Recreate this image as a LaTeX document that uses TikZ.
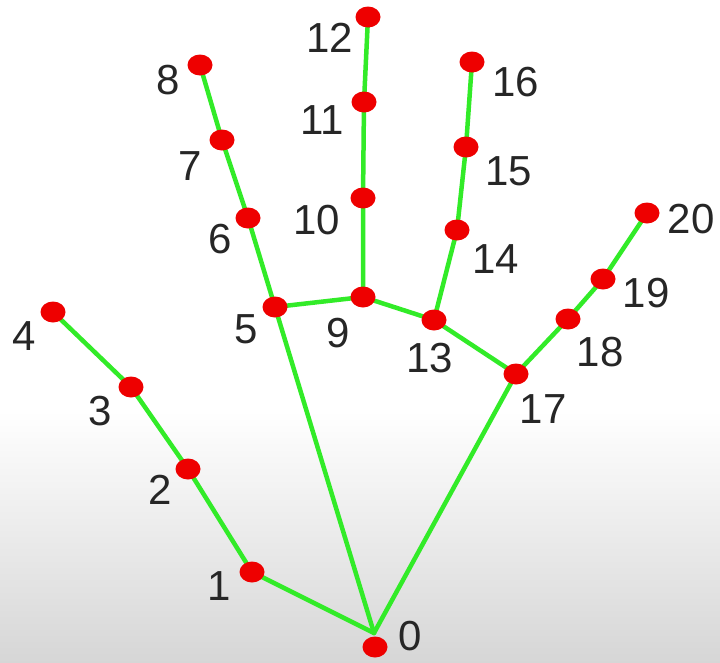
\documentclass[tikz,border=0pt]{standalone}
\usepackage{fontspec}
\setmainfont{Liberation Sans}
\usetikzlibrary{shapes.geometric}
\definecolor{bone}{RGB}{50,235,40}
\definecolor{joint}{RGB}{238,0,0}
\begin{document}
\begin{tikzpicture}[x=1pt,y=-1pt,
  dot/.style={ellipse,fill=joint,draw=none,minimum width=25pt,minimum height=21pt,inner sep=0pt},
  lbl/.style={font=\fontsize{42}{48}\selectfont,text=black!85,inner sep=0pt},
  bonestyle/.style={draw=bone,line width=4.5pt,line cap=round,line join=round}]
\useasboundingbox (0,0) rectangle (720,662);
\fill[white] (0,0) rectangle (720,410);
\shade[top color=white,bottom color=black!16] (0,410) rectangle (720,662);
% joints positions
\coordinate (p0) at (375,647);
\coordinate (c0) at (374,633);
\coordinate (p1) at (252,572);
\coordinate (p2) at (188,469);
\coordinate (p3) at (131,387);
\coordinate (p4) at (53,312);
\coordinate (p5) at (275,307);
\coordinate (p6) at (248,218);
\coordinate (p7) at (222,140);
\coordinate (p8) at (200,65);
\coordinate (p9) at (363,297);
\coordinate (p10) at (363,198);
\coordinate (p11) at (364,102);
\coordinate (p12) at (368,17);
\coordinate (p13) at (434,320);
\coordinate (p14) at (457,230);
\coordinate (p15) at (466,147);
\coordinate (p16) at (472,62);
\coordinate (p17) at (516,374);
\coordinate (p18) at (568,319);
\coordinate (p19) at (603,279);
\coordinate (p20) at (647,213);
% bones
\path[bonestyle] (c0) -- (p1) -- (p2) -- (p3) -- (p4);
\path[bonestyle] (c0) -- (p5) -- (p6) -- (p7) -- (p8);
\path[bonestyle] (p5) -- (p9) -- (p10) -- (p11) -- (p12);
\path[bonestyle] (p9) -- (p13) -- (p14) -- (p15) -- (p16);
\path[bonestyle] (p13) -- (p17) -- (p18) -- (p19) -- (p20);
\path[bonestyle] (c0) -- (p17);
% dots
\foreach \i in {0,...,20} {\node[dot] (d\i) at (p\i) {};}
% labels
\node[lbl] (l0) at (410,636) {0};
\node[lbl] (l1) at (219,586) {1};
\node[lbl] (l2) at (160,490) {2};
\node[lbl] (l3) at (100,411) {3};
\node[lbl] (l4) at (24,336) {4};
\node[lbl] (l5) at (246,329) {5};
\node[lbl] (l6) at (220,239) {6};
\node[lbl] (l7) at (190,166) {7};
\node[lbl] (l8) at (168,80) {8};
\node[lbl] (l9) at (338,333) {9};
\node[lbl] (l10) at (317,220) {10};
\node[lbl] (l11) at (322,120) {11};
\node[lbl] (l12) at (330,38) {12};
\node[lbl] (l13) at (430,358) {13};
\node[lbl] (l14) at (496,259) {14};
\node[lbl] (l15) at (509,171) {15};
\node[lbl] (l16) at (516,82) {16};
\node[lbl] (l17) at (543,409) {17};
\node[lbl] (l18) at (600,352) {18};
\node[lbl] (l19) at (646,293) {19};
\node[lbl] (l20) at (691,219) {20};
\end{tikzpicture}
\end{document}
